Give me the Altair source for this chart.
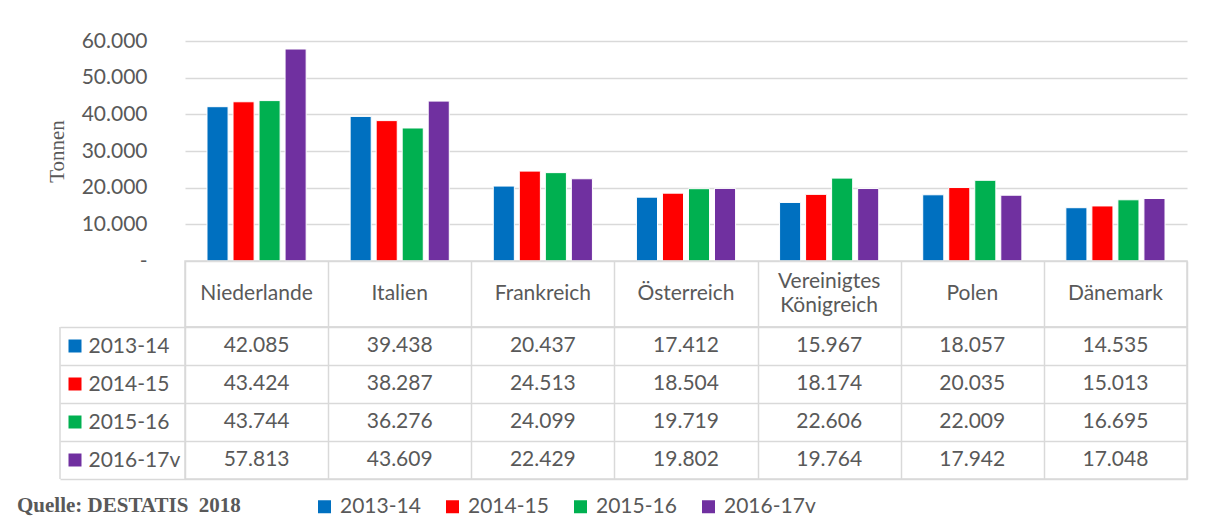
import altair as alt
import pandas as pd

countries = ["Niederlande", "Italien", "Frankreich", "Österreich",
             "Vereinigtes Königreich", "Polen", "Dänemark"]
header_lines = [["Niederlande"], ["Italien"], ["Frankreich"], ["Österreich"],
                ["Vereinigtes", "Königreich"], ["Polen"], ["Dänemark"]]
series = ["2013-14", "2014-15", "2015-16", "2016-17v"]
colors = ["#0070C0", "#FF0000", "#00B050", "#7030A0"]

v_2013_14 = [42085, 39438, 20437, 17412, 15967, 18057, 14535]
v_2014_15 = [43424, 38287, 24513, 18504, 18174, 20035, 15013]
v_2015_16 = [43744, 36276, 24099, 19719, 22606, 22009, 16695]
v_2016_17v = [57813, 43609, 22429, 19802, 19764, 17942, 17048]
y_ticks = [0, 10000, 20000, 30000, 40000, 50000, 60000]

rows = []
for s, vals in zip(series, [v_2013_14, v_2014_15, v_2015_16, v_2016_17v]):
    for c, v in zip(countries, vals):
        rows.append({"country": c, "series": s, "value": v,
                     "label": f"{v:,}".replace(",", ".")})
df = pd.DataFrame(rows)

hrows = []
for c, lines in zip(countries, header_lines):
    n = len(lines)
    for i, t in enumerate(lines):
        hrows.append({"country": c, "line": t, "pos": (n - 1) / 2 - i})
hdr = pd.DataFrame(hrows)
ser_df = pd.DataFrame({"series": series})

GRID = "#D9D9D9"
TXT = "#595959"
FONT = "Lato"
FS = 21
W = 1002

xscale = alt.Scale(domain=countries, paddingInner=0, paddingOuter=0)
grid_axis = alt.Axis(labels=False, ticks=False, domain=False, grid=True,
                     tickBand="extent", gridColor=GRID, gridWidth=1.5, title=None)

color = alt.Color(
    "series:N", sort=series,
    scale=alt.Scale(domain=series, range=colors),
    legend=alt.Legend(
        title="Quelle: DESTATIS \u00a02018", orient="none", legendX=-168, legendY=455,
        direction="horizontal", titleOrient="left", titleFont="Liberation Serif",
        titleFontWeight="bold", titleFontSize=21, titleColor=TXT,
        titleLimit=400, titlePadding=73, titleBaseline="middle",
        symbolType="square", symbolSize=169, symbolStrokeWidth=0, symbolOpacity=1,
        labelFont=FONT, labelFontSize=FS, labelColor=TXT, labelOffset=5,
        columnPadding=21,
    ),
)

bars = alt.Chart(df).mark_bar(stroke="white", strokeWidth=1).encode(
    x=alt.X("country:N", sort=countries, scale=xscale, axis=None),
    xOffset=alt.XOffset("series:N", sort=series,
                        scale=alt.Scale(domain=series, paddingInner=0.19, paddingOuter=0.845)),
    y=alt.Y("value:Q", scale=alt.Scale(domain=[0, 60000]),
            axis=alt.Axis(values=y_ticks, title="Tonnen",
                          labelExpr="datum.value == 0 ? '-\u00a0\u00a0\u00a0\u00a0' : replace(format(datum.value, ',.0f'), ',', '.')",
                          grid=True, gridColor=GRID, gridWidth=1.5, domain=False, ticks=False,
                          labelPadding=38, labelFont=FONT, labelFontSize=FS, labelColor=TXT,
                          titleFont="Liberation Serif", titleFontWeight="normal", titleFontSize=21,
                          titleColor=TXT, titlePadding=14)),
    color=color,
).properties(width=W, height=220, view=alt.ViewBackground(strokeOpacity=0))

header = alt.Chart(hdr).mark_text(font=FONT, fontSize=FS, color=TXT).encode(
    x=alt.X("country:N", sort=countries, scale=xscale, axis=grid_axis),
    y=alt.Y("pos:Q", scale=alt.Scale(domain=[-1.43, 1.43]), axis=None),
    text="line:N",
).properties(width=W, height=66, view=alt.ViewBackground(stroke=GRID, strokeWidth=1.5))

yscale = alt.Scale(domain=series, paddingInner=0, paddingOuter=0)
cells = alt.Chart(df).mark_text(font=FONT, fontSize=FS, color=TXT).encode(
    x=alt.X("country:N", sort=countries, scale=xscale, axis=grid_axis),
    y=alt.Y("series:N", sort=series, scale=yscale,
            axis=alt.Axis(title=None, labelAlign="left", labelPadding=-28, tickSize=125,
                          tickBand="extent", tickColor=GRID, tickWidth=1.5, grid=True,
                          gridColor=GRID, gridWidth=1.5, domain=False, labelFont=FONT,
                          labelFontSize=FS, labelColor=TXT)),
    text="label:N",
)
squares = alt.Chart(ser_df).mark_square(size=169, opacity=1).encode(
    x=alt.value(-110),
    y=alt.Y("series:N", sort=series, scale=yscale),
    color=color,
)
left_rule = alt.Chart(ser_df.head(1)).mark_rule(color=GRID, strokeWidth=1.5).encode(
    x=alt.value(-125), y=alt.value(0), y2=alt.value(152),
)
table = alt.layer(cells, squares, left_rule).properties(
    width=W, height=152, view=alt.ViewBackground(stroke=GRID, strokeWidth=1.5))

chart = alt.vconcat(bars, header, table, spacing=0, bounds="flush").properties(
    padding={"left": 9, "top": 22, "right": 5, "bottom": 5},
    background="white",
)

chart.save("out.html", embed_options={"renderer": "svg", "actions": False})
